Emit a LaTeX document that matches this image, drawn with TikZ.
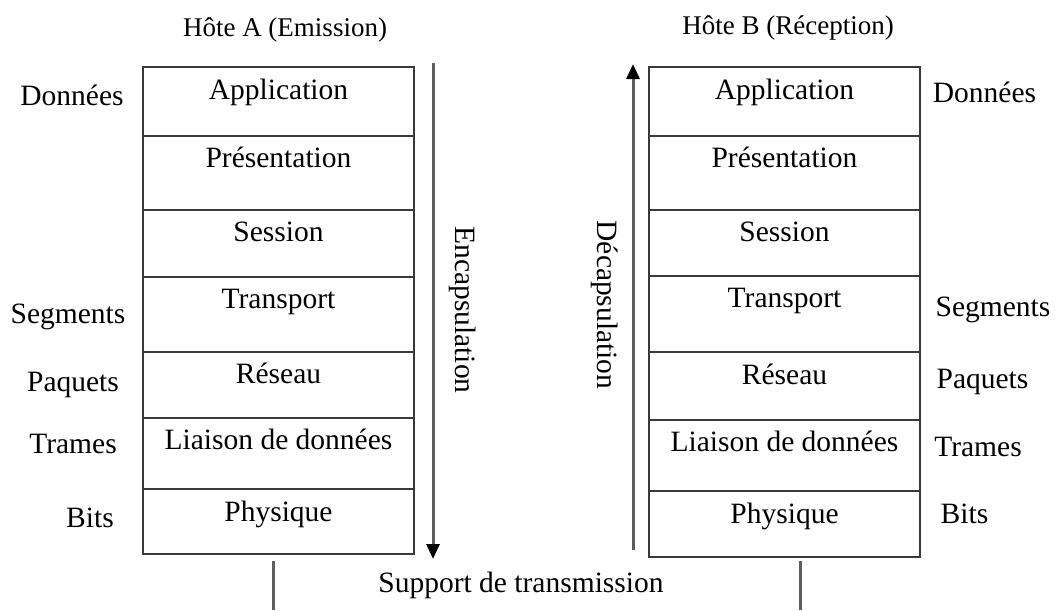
\documentclass[tikz,border=0pt]{standalone}
\usepackage{fontspec}
\setmainfont{Liberation Serif}
\usetikzlibrary{arrows.meta}
\definecolor{boxc}{HTML}{3A3A3A}
\definecolor{arrc}{HTML}{5E5E5E}
\begin{document}
\begin{tikzpicture}[x=1pt,y=-1pt,
  layer/.style={draw=boxc, line width=2pt, minimum width=271pt, inner sep=0pt, outer sep=0pt, anchor=north west},
  txt/.style={font=\fontsize{29.5}{32}\selectfont, inner sep=0pt, anchor=base},
  ttl/.style={font=\fontsize{27}{30}\selectfont, inner sep=0pt, anchor=base},
  vtxt/.style={font=\fontsize{29.5}{32}\selectfont, inner sep=0pt, rotate=-90},
  arr/.style={draw=arrc, line width=3pt, -{Triangle[width=13pt,length=15pt,color=black]}},
  wire/.style={draw=arrc, line width=3pt}]
\useasboundingbox (0,0) rectangle (1056,610);
% titles
\node[ttl] (tA) at (285,37) {Hôte A (Emission)};
\node[ttl] (tB) at (788,35) {Hôte B (Réception)};
% left stack
\node[layer, minimum height=69pt] (A1) at (143,67) {};
\node[layer, minimum height=74pt] (A2) at (143,136) {};
\node[layer, minimum height=67pt] (A3) at (143,210) {};
\node[layer, minimum height=75pt] (A4) at (143,277) {};
\node[layer, minimum height=66pt] (A5) at (143,352) {};
\node[layer, minimum height=71pt] (A6) at (143,418) {};
\node[layer, minimum height=65pt] (A7) at (143,489) {};
\node[txt] (A1t) at (278.5,99) {Application};
\node[txt] (A2t) at (278.5,167) {Présentation};
\node[txt] (A3t) at (278.5,241) {Session};
\node[txt] (A4t) at (278.5,308) {Transport};
\node[txt] (A5t) at (278.5,383) {Réseau};
\node[txt] (A6t) at (278.5,449) {Liaison de données};
\node[txt] (A7t) at (278.5,521) {Physique};
% right stack
\node[layer, minimum height=69pt] (B1) at (649,67) {};
\node[layer, minimum height=74pt] (B2) at (649,136) {};
\node[layer, minimum height=66pt] (B3) at (649,210) {};
\node[layer, minimum height=76pt] (B4) at (649,276) {};
\node[layer, minimum height=68pt] (B5) at (649,352) {};
\node[layer, minimum height=71pt] (B6) at (649,420) {};
\node[layer, minimum height=66pt] (B7) at (649,491) {};
\node[txt] (B1t) at (784.5,99) {Application};
\node[txt] (B2t) at (784.5,167) {Présentation};
\node[txt] (B3t) at (784.5,241) {Session};
\node[txt] (B4t) at (784.5,307) {Transport};
\node[txt] (B5t) at (784.5,384) {Réseau};
\node[txt] (B6t) at (784.5,451) {Liaison de données};
\node[txt] (B7t) at (784.5,523) {Physique};
% left side labels
\node[txt] (lD) at (72,105) {Données};
\node[txt] (lS) at (68,323) {Segments};
\node[txt] (lP) at (73,391) {Paquets};
\node[txt] (lT) at (73,453) {Trames};
\node[txt] (lB) at (90,527) {Bits};
% right side labels
\node[txt] (rD) at (984.5,102) {Données};
\node[txt] (rS) at (993,316) {Segments};
\node[txt] (rP) at (982.5,388) {Paquets};
\node[txt] (rT) at (978,456) {Trames};
\node[txt] (rB) at (964.5,523) {Bits};
% encapsulation arrows
\coordinate (eTop) at (433,63);
\coordinate (eBot) at (433,559);
\draw[arr] (eTop) -- (eBot);
\node[vtxt] (enc) at (463,310) {Encapsulation};
\coordinate (dBot) at (633,550);
\coordinate (dTop) at (633,64);
\draw[arr] (dBot) -- (dTop);
\node[vtxt] (dec) at (605,305) {Décapsulation};
% transmission medium
\coordinate (wA) at (273,561);
\coordinate (wAb) at (273,610);
\coordinate (wB) at (800,561);
\coordinate (wBb) at (800,610);
\draw[wire] (wA) -- (wAb);
\draw[wire] (wB) -- (wBb);
\node[txt] (sup) at (521,592) {Support de transmission};
\end{tikzpicture}
\end{document}
